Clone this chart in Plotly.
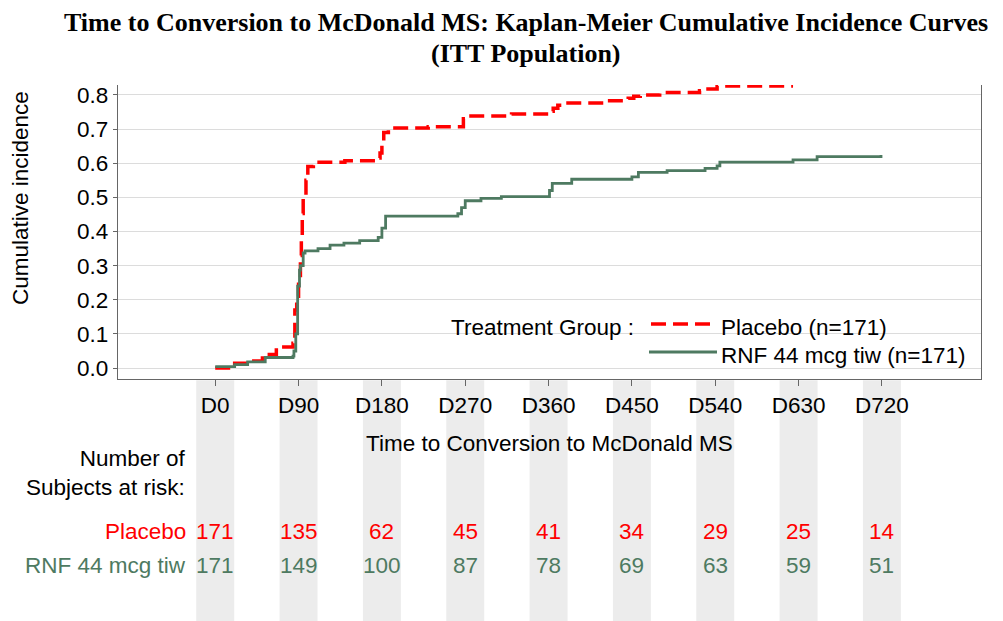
import plotly.graph_objects as go

# ---------------- data ----------------
pbo_days = [0, 21, 35, 51, 66, 84, 86, 88, 90, 92, 93, 94, 95, 98, 100, 106, 140, 175,
            178, 180, 182, 187, 230, 268, 272, 320, 361, 365, 370, 376, 420, 446, 452,
            459, 480, 523, 530, 542, 624]
pbo_inc = [0.000, 0.014, 0.021, 0.040, 0.062, 0.073, 0.170, 0.210, 0.258, 0.330, 0.385,
           0.453, 0.500, 0.550, 0.590, 0.603, 0.607, 0.615, 0.630, 0.660, 0.690, 0.703,
           0.707, 0.730, 0.738, 0.744, 0.752, 0.761, 0.770, 0.776, 0.783, 0.790, 0.796,
           0.800, 0.807, 0.812, 0.817, 0.826, 0.826]

rnf_days = [0, 21, 35, 54, 84, 85, 87, 89, 91, 92, 95, 97, 111, 124, 139, 156, 176, 180,
            184, 262, 266, 270, 287, 309, 361, 364, 385, 450, 457, 488, 529, 542, 545,
            624, 650, 717, 719]
rnf_inc = [0.004, 0.010, 0.018, 0.031, 0.035, 0.050, 0.100, 0.240, 0.287, 0.300, 0.337,
           0.343, 0.350, 0.360, 0.366, 0.373, 0.383, 0.410, 0.445, 0.452, 0.470, 0.490,
           0.497, 0.502, 0.520, 0.541, 0.553, 0.560, 0.573, 0.578, 0.585, 0.592, 0.603,
           0.610, 0.619, 0.619, 0.624]

tick_days = [0, 90, 180, 270, 360, 450, 540, 630, 720]
tick_labels = ["D0", "D90", "D180", "D270", "D360", "D450", "D540", "D630", "D720"]
pbo_risk = [171, 135, 62, 45, 41, 34, 29, 25, 14]
rnf_risk = [171, 149, 100, 87, 78, 69, 63, 59, 51]

pbo_name = "Placebo (n=171)"
rnf_name = "RNF 44 mcg tiw (n=171)"
title_lines = ["Time to Conversion to McDonald MS: Kaplan-Meier Cumulative Incidence Curves",
               "(ITT Population)"]

# ---------------- style ----------------
RED = "#ff0000"
GREEN = "#4e7a61"
FONT = "Liberation Sans, Arial, sans-serif"
SERIF = "Liberation Serif, Times New Roman, serif"
FS = 22.5
OFF = 8  # page body margin
WIN_W, WIN_H = 1003, 621
PL, PR, PT, PB = 118, 981, 85, 379  # plot area in window pixels
W, H = WIN_W - OFF, WIN_H - OFF
ML, MT = PL - OFF, PT - OFF
MR, MB = WIN_W - PR, WIN_H - PB
PW, PH = PR - PL, PB - PT


def px_x(px):
    return (px - PL) / PW


def px_y(py):
    return (PB - py) / PH


fig = go.Figure()
fig.add_trace(go.Scatter(x=pbo_days, y=pbo_inc, mode="lines", name=pbo_name,
                         line=dict(color=RED, width=3.5, dash="15px,7px", shape="hv"),
                         showlegend=False))
fig.add_trace(go.Scatter(x=rnf_days, y=rnf_inc, mode="lines", name=rnf_name,
                         line=dict(color=GREEN, width=2.8, shape="hv"),
                         showlegend=False))

shapes = []
for d in tick_days:
    shapes.append(dict(type="rect", xref="x", yref="paper", x0=d - 20.5, x1=d + 20.5,
                       y0=-MB / PH - 0.01, y1=-0.004, fillcolor="#ececec", line_width=0,
                       layer="below"))
shapes.append(dict(type="rect", xref="paper", yref="paper", x0=px_x(443), x1=px_x(977),
                   y0=px_y(377), y1=px_y(310), fillcolor="white", line_width=0,
                   layer="between"))
shapes.append(dict(type="line", xref="paper", yref="paper", x0=px_x(651), x1=px_x(717),
                   y0=px_y(324), y1=px_y(324), line=dict(color=RED, width=3.5, dash="15px,7px")))
shapes.append(dict(type="line", xref="paper", yref="paper", x0=px_x(649), x1=px_x(717),
                   y0=px_y(352), y1=px_y(352), line=dict(color=GREEN, width=2.8)))


def txt(text, x, y, xanchor="center", color="black", size=FS, family=FONT, xref="paper",
        **kw):
    return dict(text=text, xref=xref, yref="paper", x=x, y=y, xanchor=xanchor,
                yanchor="middle", showarrow=False, font=dict(size=size, color=color,
                                                             family=family), **kw)


ann = []
ann.append(txt("<b>" + title_lines[0] + "</b>", px_x(526), px_y(22), size=26, family=SERIF))
ann.append(txt("<b>" + title_lines[1] + "</b>", px_x(526), px_y(53), size=26, family=SERIF))
ann.append(txt("Treatment Group :", px_x(449), px_y(327), xanchor="left"))
ann.append(txt(pbo_name, px_x(719), px_y(327), xanchor="left"))
ann.append(txt(rnf_name, px_x(719), px_y(355), xanchor="left"))
ann.append(txt("Cumulative incidence", px_x(20), px_y(198), textangle=-90))
ann.append(txt("Time to Conversion to McDonald MS", px_x(549), px_y(443)))
ann.append(txt("Number of<br>Subjects at risk:", px_x(188), px_y(472.5), xanchor="right",
               align="right"))
ann.append(txt("Placebo", px_x(188), px_y(531), xanchor="right", color=RED))
ann.append(txt("RNF 44 mcg tiw", px_x(188), px_y(565), xanchor="right", color=GREEN))
for d, p, r in zip(tick_days, pbo_risk, rnf_risk):
    ann.append(txt(str(p), d, px_y(531), color=RED, xref="x"))
    ann.append(txt(str(r), d, px_y(565), color=GREEN, xref="x"))

fig.update_layout(
    width=W, height=H,
    margin=dict(l=ML, r=MR, t=MT, b=MB, pad=0),
    paper_bgcolor="white", plot_bgcolor="white",
    shapes=shapes, annotations=ann, showlegend=False,
    xaxis=dict(range=[-105, 827], tickvals=tick_days, ticktext=tick_labels,
               showgrid=False, zeroline=False, showline=True, linecolor="#666666", linewidth=1.2,
               ticks="outside", ticklen=6, tickcolor="#666666",
               tickfont=dict(size=FS, color="black", family=FONT)),
    yaxis=dict(range=[-0.032, 0.829], tickvals=[0, 0.1, 0.2, 0.3, 0.4, 0.5, 0.6, 0.7, 0.8],
               tickformat=".1f", showgrid=True, gridcolor="#dcdcdc", gridwidth=1,
               zeroline=False, showline=True, linecolor="#666666", linewidth=1.2, mirror=True,
               ticks="outside", ticklen=4, tickcolor="#666666",
               tickfont=dict(size=FS, color="black", family=FONT)),
)

fig.write_html("out.html")
